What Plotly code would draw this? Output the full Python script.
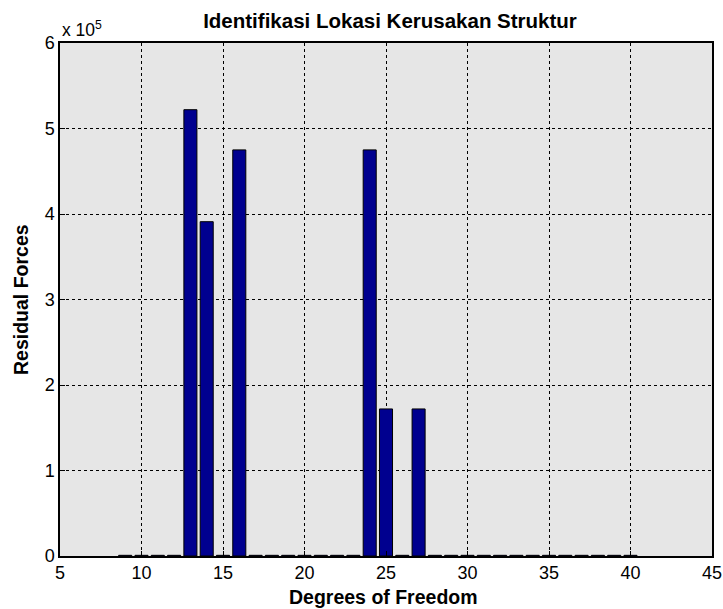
import plotly.graph_objects as go

# Degrees of freedom and residual forces
dof = list(range(9, 41))
major_dof = [13, 14, 16, 24, 25, 27]
major_vals = [5.22e5, 3.91e5, 4.75e5, 4.75e5, 1.72e5, 1.72e5]
small_val = 800.0

residual = [major_vals[major_dof.index(d)] if d in major_dof else small_val for d in dof]

fig = go.Figure()
fig.add_trace(go.Bar(
    x=dof, y=[v / 1e5 for v in residual], width=0.8,
    marker=dict(color="#00008F", line=dict(color="black", width=1)),
))

font = "Liberation Sans"
L, R, T, B = 60, 11, 43, 53
W, H = 723, 609
pw, ph = W - L - R, H - T - B

fig.update_layout(
    width=W, height=H,
    margin=dict(l=L, r=R, t=T, b=B),
    paper_bgcolor="white", plot_bgcolor="#E6E6E6",
    showlegend=False,
    font=dict(family=font, size=18, color="black"),
    title=dict(text="<b>Identifikasi Lokasi Kerusakan Struktur</b>", x=390 / W, xanchor="center",
               y=1 - 21 / H, yanchor="middle", font=dict(size=20.5)),
    xaxis=dict(range=[5, 45], tickvals=[5, 10, 15, 20, 25, 30, 35, 40, 45],
               tickfont=dict(size=18), automargin=False,
               showgrid=True, gridcolor="black", griddash="dot", gridwidth=1,
               showline=True, linecolor="black", linewidth=1.5, mirror=True,
               ticks="inside", ticklen=5, tickcolor="black", zeroline=False),
    yaxis=dict(range=[0, 6], tickvals=[0, 1, 2, 3, 4, 5, 6],
               tickfont=dict(size=18), automargin=False,
               showgrid=True, gridcolor="black", griddash="dot", gridwidth=1,
               showline=True, linecolor="black", linewidth=1.5, mirror=True,
               ticks="inside", ticklen=5, tickcolor="black", zeroline=False),
    annotations=[
        dict(text="x 10<sup>5</sup>", xref="paper", yref="paper", x=0.0, y=(556 - 29) / ph,
             xanchor="left", yanchor="middle", showarrow=False, font=dict(size=17.5)),
        dict(text="<b>Degrees of Freedom</b>", xref="paper", yref="paper", x=(383 - L) / pw,
             y=(556 - 597) / ph, xanchor="center", yanchor="middle", showarrow=False,
             font=dict(size=19.5)),
        dict(text="<b>Residual Forces</b>", xref="paper", yref="paper", x=(21 - L) / pw,
             y=(556 - 300) / ph, xanchor="center", yanchor="middle", showarrow=False,
             textangle=-90, font=dict(size=19.5)),
    ],
)

fig.write_html("out.html")
